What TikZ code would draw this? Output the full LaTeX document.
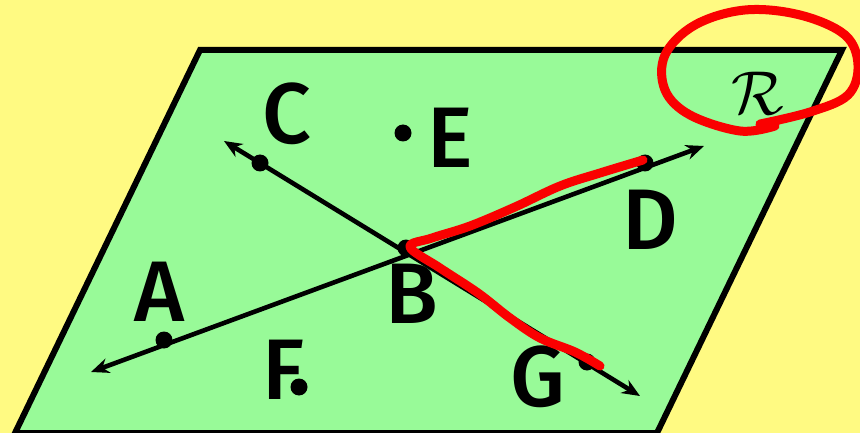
\documentclass[tikz,border=0pt]{standalone}
\usepackage{fontspec}
\setmainfont{Fira Sans}[UprightFont={* Medium},BoldFont={* Bold}]
\usetikzlibrary{arrows.meta}
\definecolor{bgyellow}{RGB}{255,250,130}
\definecolor{planegreen}{RGB}{152,250,152}
\definecolor{penred}{RGB}{250,0,0}
\tikzset{
  dotpt/.style={circle,fill=black,inner sep=0pt,minimum size=17pt},
  lbl/.style={inner sep=0pt,font=\fontsize{86}{86}\selectfont},
  geoline/.style={line width=4.6pt,{Stealth[length=18pt,width=15pt]}-{Stealth[length=18pt,width=15pt]}},
  redpen/.style={line width=9pt,penred,line cap=round,line join=round}
}
\begin{document}
\begin{tikzpicture}[x=1pt,y=-1pt]
\useasboundingbox (0,0) rectangle (860,433);
\fill[bgyellow] (0,0) rectangle (860,433);
\coordinate (p1) at (200,50);
\coordinate (p2) at (842,50);
\coordinate (p3) at (657,433);
\coordinate (p4) at (15,433);
\filldraw[fill=planegreen,draw=black,line width=6pt,line join=miter] (p1) -- (p2) -- (p3) -- (p4) -- cycle;
% tips
\coordinate (tA) at (91,372);
\coordinate (tD) at (704,146);
\coordinate (tC) at (224,141);
\coordinate (tG) at (640,396);
\draw[geoline] (tA) -- (tD);
\draw[geoline] (tC) -- (tG);
% points
\node[dotpt] (A) at (164,340) {};
\node[dotpt] (B) at (406,248) {};
\node[dotpt] (C) at (260,163) {};
\node[dotpt] (D) at (645,163) {};
\node[dotpt] (E) at (403,133) {};
\node[dotpt] (F) at (299,387) {};
\node[dotpt] (G) at (587,362) {};
% labels
\node[lbl] (lA) at (160,292) {A};
\node[lbl] (lB) at (412,294) {B};
\node[lbl] (lC) at (287,114) {C};
\node[lbl] (lD) at (650,220) {D};
\node[lbl] (lE) at (450,138) {E};
\node[lbl] (lF) at (284,370) {F};
\node[lbl] (lG) at (538,377) {G};
\node[inner sep=0pt] (lR) at (758,93) {\scalebox{6.2}{$\mathcal{R}$}};
% red pen strokes
\draw[redpen] plot[smooth,tension=0.6] coordinates {(643,160) (600,173) (560,186) (515,207) (470,226) (432,238) (410,247) (440,268) (478,293) (510,318) (540,338) (575,352) (600,366)};
\draw[redpen] plot[smooth,tension=0.6] coordinates {(760,124) (810,112) (848,95) (858,65) (845,35) (800,15) (745,10) (695,25) (665,55) (665,90) (690,115) (740,131) (775,126)};
\end{tikzpicture}
\end{document}
